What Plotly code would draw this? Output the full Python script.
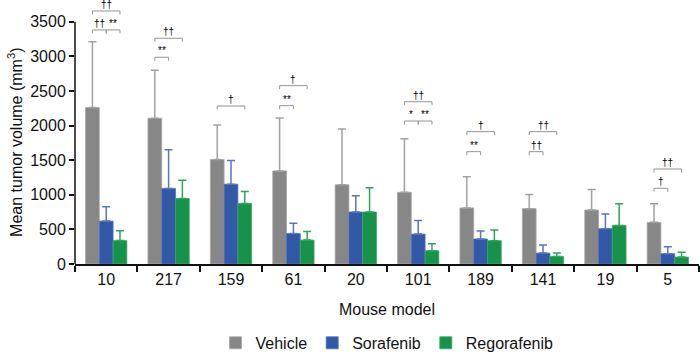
import plotly.graph_objects as go

models = ["10", "217", "159", "61", "20", "101", "189", "141", "19", "5"]
series_names = ["Vehicle", "Sorafenib", "Regorafenib"]

vehicle_mean = [2260, 2105, 1510, 1345, 1145, 1035, 810, 800, 780, 602]
vehicle_top = [3210, 2800, 2010, 2110, 1950, 1810, 1260, 1005, 1078, 870]
sorafenib_mean = [620, 1092, 1153, 440, 751, 432, 361, 158, 510, 149]
sorafenib_top = [826, 1652, 1495, 588, 987, 630, 477, 273, 722, 250]
regorafenib_mean = [338, 946, 874, 345, 751, 192, 337, 110, 558, 100]
regorafenib_top = [480, 1210, 1048, 470, 1100, 292, 490, 158, 870, 168]

# significance brackets: (model, from series, to series, label, bracket height)
br_model = ["10", "10", "10", "217", "217", "159", "61", "61", "101", "101", "101",
            "189", "189", "141", "141", "5", "5"]
br_from = [0, 1, 0, 0, 0, 0, 0, 0, 0, 1, 0, 0, 0, 0, 0, 0, 0]
br_to = [1, 2, 2, 1, 2, 2, 1, 2, 1, 2, 2, 1, 2, 1, 2, 1, 2]
br_label = ["††", "**", "††", "**", "††", "†", "**", "†", "*", "**", "††",
            "**", "†", "††", "††", "†", "††"]
br_height = [3382, 3382, 3656, 2987, 3262, 2283, 2288, 2577, 2066, 2066, 2345,
             1623, 1912, 1623, 1912, 1094, 1373]

y_ticks = [0, 500, 1000, 1500, 2000, 2500, 3000, 3500]

means = [vehicle_mean, sorafenib_mean, regorafenib_mean]
tops = [vehicle_top, sorafenib_top, regorafenib_top]
colors = ["#878787", "#3358a6", "#18924b"]
edge = ["#a8a8a8", "#5072bf", "#3aa866"]
err_colors = ["#a2a2a2", "#5776c6", "#2ea45c"]

FONT = "Liberation Sans, Arial, sans-serif"
BARGAP = 0.338

fig = go.Figure()
for name, m, t, c, ec, ed in zip(series_names, means, tops, colors, err_colors, edge):
    fig.add_trace(go.Bar(
        name=name, x=models, y=m,
        marker=dict(color=c, line=dict(color=ed, width=0.8)),
        error_y=dict(type="data", symmetric=False,
                     array=[tt - mm for tt, mm in zip(t, m)],
                     arrayminus=[0] * len(m),
                     color=ec, thickness=1.5, width=4),
    ))

bw = (1 - BARGAP) / 3
shapes = []
annotations = []
tick_len = 50
for mdl, f, to, lab, h in zip(br_model, br_from, br_to, br_label, br_height):
    i = models.index(mdl)
    x0 = i + (f - 1) * bw
    x1 = i + (to - 1) * bw
    ln = dict(color="#959595", width=1)
    shapes.append(dict(type="line", xref="x", yref="y", x0=x0, x1=x1, y0=h, y1=h, line=ln))
    shapes.append(dict(type="line", xref="x", yref="y", x0=x0, x1=x0, y0=h - tick_len, y1=h, line=ln))
    shapes.append(dict(type="line", xref="x", yref="y", x0=x1, x1=x1, y0=h - tick_len, y1=h, line=ln))
    annotations.append(dict(xref="x", yref="y", x=(x0 + x1) / 2, y=h, text=lab,
                            showarrow=False, yanchor="bottom", yshift=-1,
                            font=dict(family=FONT, size=10, color="#000000")))

# y axis line only up to the top tick
shapes.append(dict(type="line", xref="paper", yref="y", x0=0, x1=0, y0=0, y1=y_ticks[-1],
                   line=dict(color="#111", width=1.5)))

annotations.append(dict(xref="paper", yref="y", x=0, y=y_ticks[-1] / 2, xshift=-60,
                        text="Mean tumor volume (mm<sup>3</sup>)", textangle=-90,
                        showarrow=False, xanchor="center", yanchor="middle",
                        font=dict(family=FONT, size=16, color="#111")))

fig.update_layout(
    width=700, height=355,
    margin=dict(l=75, r=1, t=1, b=91, autoexpand=False),
    paper_bgcolor="white", plot_bgcolor="white",
    barmode="group", bargap=BARGAP, bargroupgap=0,
    font=dict(family=FONT, size=16, color="#111"),
    showlegend=True,
    legend=dict(orientation="h", x=0.5, xanchor="center", y=-0.3, yanchor="middle",
                font=dict(family=FONT, size=16, color="#111")),
    shapes=shapes, annotations=annotations,
    xaxis=dict(type="category", showline=True, linecolor="#111", linewidth=1.5,
               ticks="outside", tickson="boundaries", ticklen=6, tickwidth=1.5,
               tickcolor="#111", showgrid=False, zeroline=False, automargin=False,
               tickfont=dict(family=FONT, size=16, color="#111"),
               title=dict(text="Mouse model", standoff=17,
                          font=dict(family=FONT, size=16, color="#111"))),
    yaxis=dict(range=[0, 3800], tickvals=y_ticks, showline=False, showgrid=False,
               zeroline=False, ticks="outside", ticklen=5, tickwidth=1.5, tickcolor="#111",
               automargin=False,
               tickfont=dict(family=FONT, size=16, color="#111")),
)

fig.write_html("out.html", config={"displayModeBar": False},
               post_script="document.body.style.margin='0';document.body.style.overflow='hidden';")
